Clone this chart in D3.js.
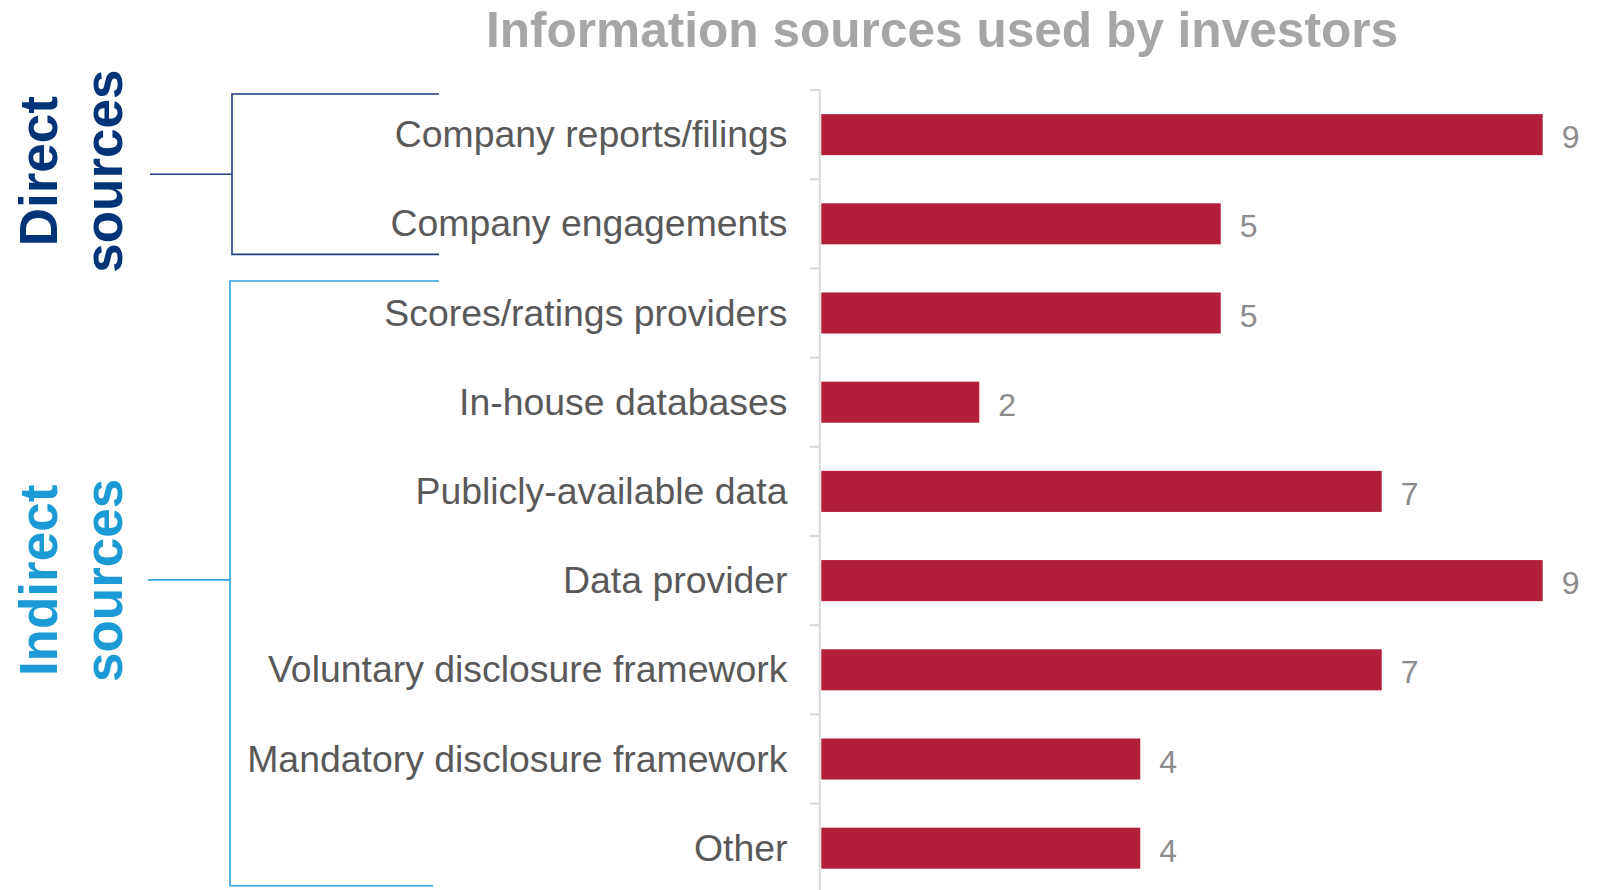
<!DOCTYPE html>
<html>
<head>
<meta charset="utf-8">
<script src="https://cdn.jsdelivr.net/npm/d3@7"></script>
<style>
  html, body { margin: 0; padding: 0; background: #ffffff; }
  svg { display: block; font-family: "Liberation Sans", Arial, Helvetica, sans-serif; }
</style>
</head>
<body>
<svg id="chart" width="1601" height="890"></svg>
<script>
// ---- data ----
const titleText = "Information sources used by investors";
const categories = [
  "Company reports/filings",
  "Company engagements",
  "Scores/ratings providers",
  "In-house databases",
  "Publicly-available data",
  "Data provider",
  "Voluntary disclosure framework",
  "Mandatory disclosure framework",
  "Other"
];
const values = [9, 5, 5, 2, 7, 9, 7, 4, 4];
const groupNames = [["Direct", "sources"], ["Indirect", "sources"]];
const groupStart = [0, 2];
const groupEnd = [2, 9];

// ---- layout / style ----
const W = 1601, H = 890;
const barColor = "#B21F3A";
const groupColors = ["#003478", "#1B9AD6"];
const bracketColors = ["#1F3F7F", "#2FA4DF"];
const bracketPad = [[4, 14], [12.6, 7]];
const bracketX = [232, 230];
const bracketRight = [[439, 439], [439, 433]];
const stubShift = [0, -3.5];

const svg = d3.select("#chart");
svg.append("rect").attr("width", W).attr("height", H).attr("fill", "#ffffff");

const x = d3.scaleLinear().domain([0, 9]).range([818.3, 1542.7]);
const y = d3.scaleBand().domain(categories)
  .range([90, 892.8]).paddingInner(0.54).paddingOuter(0.27);
const step = y.step();
const y0 = y.range()[0];

// title
svg.append("text")
  .attr("x", 942).attr("y", 47)
  .attr("text-anchor", "middle")
  .attr("font-size", 49.6).attr("font-weight", "bold")
  .attr("fill", "#A6A6A6")
  .text(titleText);

// axis line + ticks at band boundaries
const axisX = x(0) + 1.5;
svg.append("line")
  .attr("x1", axisX).attr("x2", axisX)
  .attr("y1", y0).attr("y2", y.range()[1])
  .attr("stroke", "#D9D9D9").attr("stroke-width", 2);
svg.selectAll("line.tick")
  .data(d3.range(categories.length + 1))
  .join("line").attr("class", "tick")
  .attr("x1", axisX - 10).attr("x2", axisX)
  .attr("y1", i => y0 + i * step).attr("y2", i => y0 + i * step)
  .attr("stroke", "#D9D9D9").attr("stroke-width", 2);

// bars
svg.selectAll("rect.bar")
  .data(categories)
  .join("rect").attr("class", "bar")
  .attr("x", x(0) + 3)
  .attr("y", d => y(d))
  .attr("width", (d, i) => x(values[i]) - x(0) - 3)
  .attr("height", y.bandwidth())
  .attr("fill", barColor);

// category labels
svg.selectAll("text.cat")
  .data(categories)
  .join("text").attr("class", "cat")
  .attr("x", 787.5)
  .attr("y", d => y(d) + y.bandwidth() / 2 + 12.5)
  .attr("text-anchor", "end")
  .attr("font-size", 37.4)
  .attr("fill", "#595959")
  .text(d => d);

// value labels
svg.selectAll("text.val")
  .data(categories)
  .join("text").attr("class", "val")
  .attr("x", (d, i) => x(values[i]) + 19)
  .attr("y", d => y(d) + y.bandwidth() / 2 + 13.5)
  .attr("font-size", 32)
  .attr("fill", "#8C8C8C")
  .text((d, i) => values[i]);

// group brackets + labels
groupNames.forEach((names, g) => {
  const top = y0 + groupStart[g] * step + bracketPad[g][0];
  const bot = y0 + groupEnd[g] * step - bracketPad[g][1];
  const mid = (top + bot) / 2;
  const stubY = mid + stubShift[g];
  const bx = bracketX[g];
  const col = bracketColors[g];
  const path = d3.path();
  path.moveTo(bracketRight[g][0], top);
  path.lineTo(bx, top);
  path.lineTo(bx, bot);
  path.lineTo(bracketRight[g][1], bot);
  path.moveTo(bx, stubY);
  path.lineTo(bx - 82, stubY);
  svg.append("path").attr("d", path.toString())
    .attr("fill", "none").attr("stroke", col).attr("stroke-width", 1.6);

  const baselines = [57, 122];
  names.forEach((t, k) => {
    svg.append("text")
      .attr("transform", `translate(${baselines[k]},${mid - 3}) rotate(-90)`)
      .attr("text-anchor", "middle")
      .attr("font-size", 53).attr("font-weight", "bold")
      .attr("fill", groupColors[g])
      .text(t);
  });
});
</script>
</body>
</html>
